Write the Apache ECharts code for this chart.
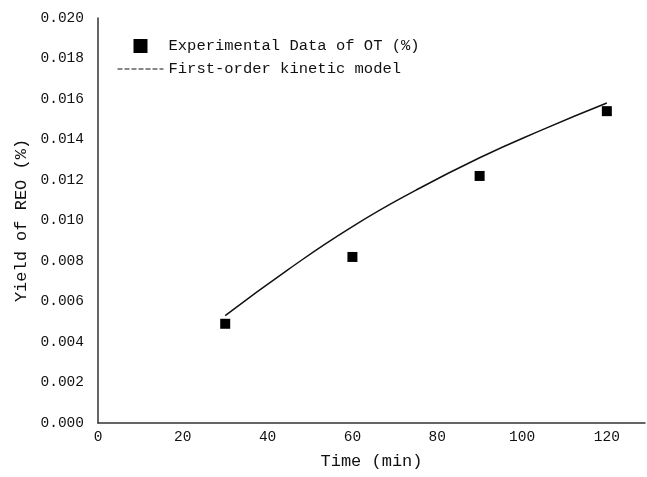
<!DOCTYPE html>
<html>
<head>
<meta charset="utf-8">
<script src="https://cdn.jsdelivr.net/npm/echarts@6/dist/echarts.min.js"></script>
<style>
  html, body { margin: 0; padding: 0; background: #fff; }
  #main { width: 647px; height: 477px; }
</style>
</head>
<body>
<div id="main"></div>
<script>
// experimental points
var expTime = [30, 60, 90, 120];
var expYield = [0.0049, 0.0082, 0.0122, 0.0154];
// fitted first-order model curve
var modelTime = [30, 45, 60, 75, 90, 105, 120];
var modelYield = [0.0053, 0.0076, 0.0097, 0.0115, 0.0131, 0.0145, 0.0158];

var font = "'Liberation Mono', 'DejaVu Sans Mono', monospace";

var chart = echarts.init(document.getElementById("main"));
chart.setOption({
  backgroundColor: "#fff",
  animation: false,
  textStyle: { fontFamily: font, color: "#111" },
  grid: { left: 98, top: 18, right: 2, bottom: 54 },
  legend: {
    orient: "vertical",
    left: 112,
    top: 33,
    itemGap: 7,
    itemWidth: 46,
    itemHeight: 14,
    textStyle: { fontFamily: font, fontSize: 15.5, color: "#111" },
    data: [
      { name: "Experimental Data of OT (%)", icon: "path://M16,0h14v14h-14z", itemStyle: { color: "#000", opacity: 1 } },
      { name: "First-order kinetic model", itemStyle: { opacity: 0 }, lineStyle: { type: [5, 2], width: 1, color: "#111" } }
    ]
  },
  xAxis: {
    type: "value",
    min: 0,
    max: 129,
    interval: 20,
    name: "Time (min)",
    nameLocation: "middle",
    nameGap: 30,
    nameTextStyle: { fontFamily: font, fontSize: 17, color: "#111" },
    axisLine: { lineStyle: { color: "#333", width: 1.5 } },
    axisTick: { show: false },
    splitLine: { show: false },
    axisLabel: { showMaxLabel: false, fontSize: 14.5, color: "#111", margin: 7 }
  },
  yAxis: {
    type: "value",
    min: 0,
    max: 0.02,
    interval: 0.002,
    name: "Yield of REO (%)",
    nameLocation: "middle",
    nameGap: 66,
    nameTextStyle: { fontFamily: font, fontSize: 17, color: "#111" },
    axisLine: { show: true, lineStyle: { color: "#333", width: 1.5 } },
    axisTick: { show: false },
    splitLine: { show: false },
    axisLabel: {
      fontSize: 14.5,
      color: "#111",
      margin: 14,
      formatter: function (v) { return v.toFixed(3); }
    }
  },
  series: [
    {
      name: "Experimental Data of OT (%)",
      type: "scatter",
      symbol: "rect",
      symbolSize: 10,
      itemStyle: { color: "#000", opacity: 1 },
      data: expTime.map(function (t, i) { return [t, expYield[i]]; })
    },
    {
      name: "First-order kinetic model",
      type: "line",
      smooth: true,
      symbol: "none",
      lineStyle: { color: "#111", width: 1.5 },
      itemStyle: { color: "#111" },
      data: modelTime.map(function (t, i) { return [t, modelYield[i]]; })
    }
  ]
});
</script>
</body>
</html>
